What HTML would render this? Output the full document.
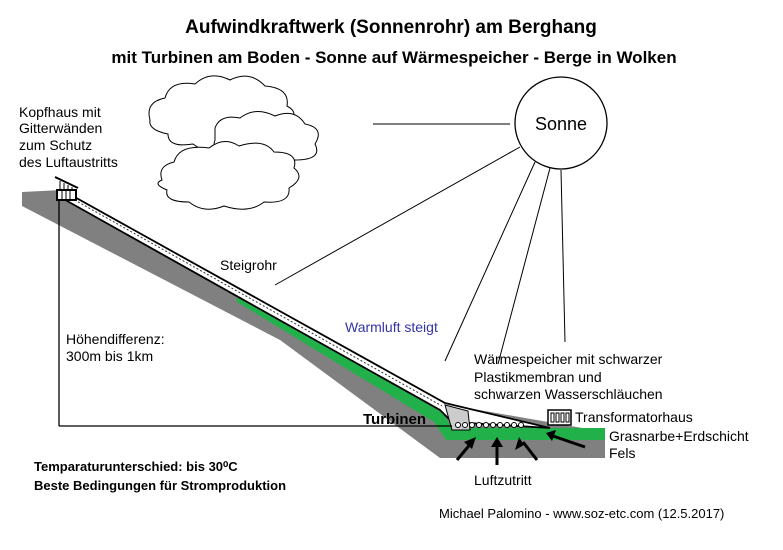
<!DOCTYPE html>
<html><head><meta charset="utf-8"><style>
body{margin:0;background:#fff}
svg{display:block}
text{font-family:"Liberation Sans",sans-serif}
</style></head><body>
<svg width="783" height="550" viewBox="0 0 783 550" xmlns="http://www.w3.org/2000/svg">
<rect width="783" height="550" fill="#fff"/>
<text x="391" y="33" text-anchor="middle" font-size="19" font-weight="bold">Aufwindkraftwerk (Sonnenrohr) am Berghang</text>
<text x="394" y="63" text-anchor="middle" font-size="17" font-weight="bold">mit Turbinen am Boden - Sonne auf Wärmespeicher - Berge in Wolken</text>
<!-- clouds -->
<g fill="#fff" stroke="#000" stroke-width="1">
<path d="M150,120 q-5,-18 15,-22 q5,-18 30,-14 q15,-14 35,-4 q20,-10 35,6 q25,2 22,20 q15,8 -2,20 q5,18 -22,18 q-15,12 -35,2 q-20,10 -35,-2 q-25,4 -25,-10 q-20,-4 -18,-14z"/>
<path d="M215,128 q5,-14 25,-10 q15,-12 35,-2 q20,-8 30,8 q20,4 10,20 q8,16 -20,16 q-15,12 -35,2 q-20,6 -30,-6 q-20,-2 -15,-16z"/>
<path d="M162,180 q-5,-14 12,-18 q5,-18 35,-14 q15,-12 30,-2 q25,-8 35,6 q25,0 20,16 q12,10 -5,20 q2,16 -25,14 q-15,12 -40,4 q-20,8 -35,-4 q-25,0 -22,-12 q-15,-6 -5,-10z"/>
</g>
<circle cx="561" cy="123" r="46" fill="#fff" stroke="#000" stroke-width="1.3"/>
<text x="561" y="130" text-anchor="middle" font-size="18">Sonne</text>
<g stroke="#000" stroke-width="1">
<line x1="373" y1="124" x2="510" y2="124"/>
<line x1="520" y1="147" x2="275" y2="285"/>
<line x1="535" y1="162" x2="445" y2="361"/>
<line x1="550" y1="168" x2="498" y2="364"/>
<line x1="561" y1="170" x2="565" y2="342"/>
</g>
<!-- mountain -->
<path d="M22,192 L62,190 L445,404 L605,432 L605,458 L440,458 L280,340 L22,206 Z" fill="#808080"/>
<!-- green layer -->
<path d="M237,294 L440,408 L452,428 L605,428 L605,440 L446,440 L434,422 L237,302 Z" fill="#22b04b"/>
<!-- tube -->
<path d="M62,190 L445,403 L550,428 L452,422 L440,410 L60,197 Z" fill="#fff" stroke="#000" stroke-width="1.8"/>
<line x1="64" y1="194" x2="442" y2="406" stroke="#333" stroke-width="1" stroke-dasharray="2,2"/>
<path d="M445,405 L468,411 L470,430 L452,430 Z" fill="#ccc" stroke="#000"/>
<g fill="#fff" stroke="#000" stroke-width="1">
<circle cx="458" cy="425" r="2.5"/><circle cx="465" cy="425" r="2.5"/><circle cx="472" cy="425" r="2.5"/><circle cx="479" cy="425" r="2.5"/><circle cx="486" cy="425" r="2.5"/><circle cx="493" cy="425" r="2.5"/><circle cx="500" cy="425" r="2.5"/><circle cx="507" cy="425" r="2.5"/><circle cx="514" cy="425" r="2.5"/><circle cx="521" cy="425" r="2.5"/>
</g>
<!-- head house -->
<g stroke="#000" stroke-width="2" fill="none">
<rect x="57" y="190" width="19" height="10" fill="#fff"/>
<line x1="55" y1="177" x2="78" y2="188"/>
<line x1="60" y1="181" x2="60" y2="190" stroke-width="1"/><line x1="64" y1="183" x2="64" y2="190" stroke-width="1"/><line x1="68" y1="185" x2="68" y2="190" stroke-width="1"/><line x1="72" y1="187" x2="72" y2="190" stroke-width="1"/>
<line x1="62" y1="190" x2="62" y2="200" stroke-width="1"/><line x1="66" y1="190" x2="66" y2="200" stroke-width="1"/><line x1="70" y1="190" x2="70" y2="200" stroke-width="1"/>
</g>
<!-- transformer -->
<rect x="548" y="410" width="23" height="15" fill="#fff" stroke="#000" stroke-width="1.5"/>
<g stroke="#000" fill="none"><rect x="551" y="413" width="3" height="9"/><rect x="556" y="413" width="3" height="9"/><rect x="561" y="413" width="3" height="9"/><rect x="566" y="413" width="3" height="9"/></g>
<!-- height line -->
<g stroke="#000" stroke-width="1.3">
<line x1="59" y1="200" x2="59" y2="426"/>
<line x1="59" y1="426" x2="452" y2="426"/>
</g>
<!-- arrows -->
<g stroke="#000" stroke-width="3" fill="#000">
<line x1="457" y1="460" x2="472" y2="442"/>
<line x1="497" y1="465" x2="497" y2="443"/>
<line x1="537" y1="460" x2="523" y2="442"/>
<line x1="585" y1="447" x2="553" y2="436"/>
</g>
<g fill="#000">
<polygon points="476,437 464,442 472,449"/>
<polygon points="497,437 491,447 503,447"/>
<polygon points="519,437 515,450 524,445"/>
<polygon points="546,433 556,430 552,441"/>
</g>
<g font-size="14">
<text x="19" y="117">Kopfhaus mit</text>
<text x="19" y="133">Gitterwänden</text>
<text x="19" y="150">zum Schutz</text>
<text x="19" y="167">des Luftaustritts</text>
<text x="220" y="270">Steigrohr</text>
<text x="345" y="332" fill="#3333aa">Warmluft steigt</text>
<text x="66" y="344">Höhendifferenz:</text>
<text x="66" y="361">300m bis 1km</text>
<text x="474" y="364">Wärmespeicher mit schwarzer</text>
<text x="474" y="382">Plastikmembran und</text>
<text x="474" y="399">schwarzen Wasserschläuchen</text>
<text x="575" y="422">Transformatorhaus</text>
<text x="609" y="441">Grasnarbe+Erdschicht</text>
<text x="609" y="458">Fels</text>
<text x="474" y="485">Luftzutritt</text>
<text x="439" y="518" font-size="13">Michael Palomino - www.soz-etc.com (12.5.2017)</text>
</g>
<text x="363" y="424" font-size="15" font-weight="bold">Turbinen</text>
<text x="34" y="471" font-size="13" font-weight="bold">Temparaturunterschied: bis 30⁰C</text>
<text x="34" y="490" font-size="13" font-weight="bold">Beste Bedingungen für Stromproduktion</text>
</svg>
</body></html>
